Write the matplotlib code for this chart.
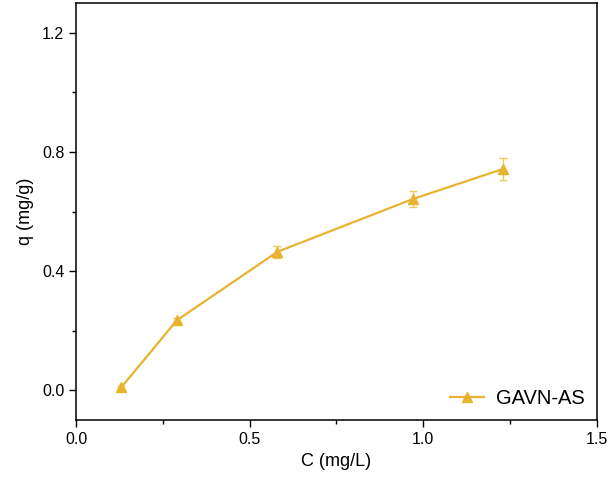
import matplotlib
matplotlib.use("Agg")
import matplotlib.pyplot as plt
from matplotlib.ticker import MultipleLocator

# data
conc = [0.13, 0.29, 0.58, 0.97, 1.23]
q = [0.01, 0.235, 0.465, 0.642, 0.743]
q_err = [0.005, 0.008, 0.02, 0.028, 0.038]

plt.rcParams["font.family"] = ["Liberation Sans", "DejaVu Sans"]

fig = plt.figure(figsize=(6.14, 4.88), dpi=100)
ax = fig.add_axes([0.124, 0.139, 0.848, 0.855])

color = "#E8B32E"
ax.errorbar(conc, q, yerr=q_err, fmt="none", ecolor="#F0C860",
            elinewidth=1, capsize=3, capthick=1)
ax.plot(conc, q, color=color, lw=1.6, marker="^", ms=7.5, label="GAVN-AS")

ax.set_xlim(0, 1.5)
ax.set_ylim(-0.1, 1.3)
ax.xaxis.set_major_locator(MultipleLocator(0.5))
ax.xaxis.set_minor_locator(MultipleLocator(0.25))
ax.yaxis.set_major_locator(MultipleLocator(0.4))
ax.yaxis.set_minor_locator(MultipleLocator(0.2))
ax.tick_params(which="major", direction="out", length=5, width=1, labelsize=11.5)
ax.tick_params(which="minor", direction="out", length=3, width=1)
for s in ax.spines.values():
    s.set_linewidth(1.1)

ax.set_xlabel("C (mg/L)", fontsize=13)
ax.set_ylabel("q (mg/g)", fontsize=13, labelpad=6)

ax.legend(loc="lower right", frameon=False, fontsize=14.5, handlelength=1.7,
          borderaxespad=0.2, handletextpad=0.6)

fig.savefig("out.png", dpi=100)
